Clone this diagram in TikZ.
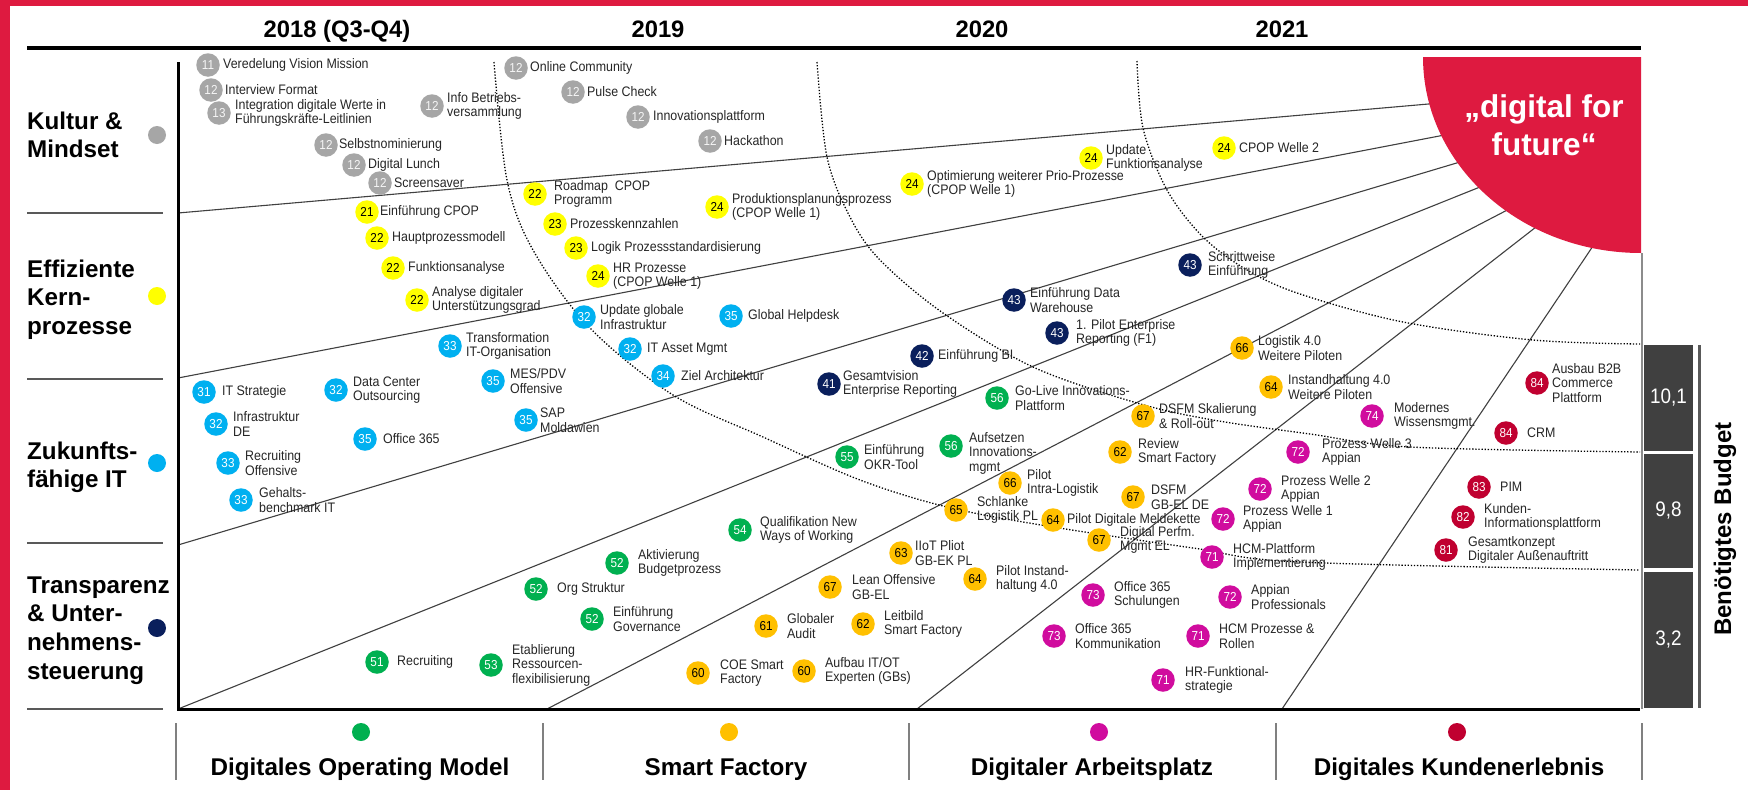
\documentclass[tikz,border=0pt]{standalone}
\usepackage{fontspec}
\setmainfont{Liberation Sans}
\newfontfamily\nf[FakeStretch=0.9]{Liberation Sans}
\definecolor{crd}{HTML}{DE1A40}
\definecolor{cgray}{HTML}{A6A6A6}
\definecolor{cyel}{HTML}{FFFF00}
\definecolor{ccyan}{HTML}{00B0F0}
\definecolor{cnavy}{HTML}{0A1F5C}
\definecolor{cgreen}{HTML}{00B050}
\definecolor{cgold}{HTML}{FFC000}
\definecolor{cmag}{HTML}{D00C9E}
\definecolor{cdred}{HTML}{C00030}
\definecolor{cbox}{HTML}{404040}
\newcommand\bub[7][0]{%
  \node[bub,#3] (#2) at (#4) {#5};
  \node[lbl,anchor=west] (#2t) at ([xshift=#6pt,yshift=#1pt]#2.center) {#7};}
\begin{document}
\begin{tikzpicture}[x=1pt,y=-1pt,
  bub/.style={circle,inner sep=0pt,minimum size=23.5pt,font=\nf\fontsize{13}{13}\selectfont},
  gr/.style={fill=cgray,text=white!92!gray},
  ye/.style={fill=cyel,text=black},
  cy/.style={fill=ccyan,text=white},
  nv/.style={fill=cnavy,text=white},
  gn/.style={fill=cgreen,text=white},
  go/.style={fill=cgold,text=black},
  mg/.style={fill=cmag,text=white},
  dr/.style={fill=cdred,text=white},
  lbl/.style={inner sep=0pt,align=left,font=\nf\fontsize{13.8}{14.5}\selectfont,text=black!85},
  hdr/.style={inner sep=0pt,anchor=base,font=\bfseries\fontsize{23.8}{28}\selectfont},
  cat/.style={inner sep=0pt,anchor=base,font=\bfseries\fontsize{24.2}{28}\selectfont},
  rowlbl/.style={inner sep=0pt,anchor=north west,align=left,font=\bfseries\fontsize{24.2}{28.7}\selectfont},
  dotc/.style={circle,inner sep=0pt,minimum size=18pt},
  ray/.style={draw=black!75,line width=1.1pt},
  arcd/.style={draw=black,line width=1.3pt,dash pattern=on 1.3pt off 1.8pt},
  sep/.style={draw=black!65,line width=1.3pt},
  budget/.style={fill=cbox},
  btxt/.style={text=white,font=\nf\fontsize{21}{21}\selectfont,inner sep=0pt}
]
\useasboundingbox (0,0) rectangle (1748,790);
\fill[white] (0,0) rectangle (1748,790);
% red frame
\fill[crd] (0,0) rectangle (1748,6);
\fill[crd] (0,0) rectangle (10,790);

% headers
\node[hdr] (h18) at (337,37.5) {2018 (Q3-Q4)};
\node[hdr] (h19) at (658,37.5) {2019};
\node[hdr] (h20) at (982,37.5) {2020};
\node[hdr] (h21) at (1282,37.5) {2021};
\draw[line width=4.5pt] (27,48) -- (1641,48);

% rays
\draw[ray] (178,213) -- (1440,103);
\draw[ray] (178,378) -- (1455,133);
\draw[ray] (178,545) -- (1470,159);
\draw[ray] (178,709) -- (1490,183);
\draw[ray] (547,709) -- (1515,206);
\draw[ray] (917,709) -- (1545,220);
\draw[ray] (1282,709) -- (1595,243);

% dotted arcs
\draw[arcd] plot[smooth,tension=0.55] coordinates {(494,62) (507,180) (533,250) (590,328) (673,395) (763,437) (860,480) (947,507) (1047,526) (1193,548) (1300,562) (1640,570)};
\draw[arcd] plot[smooth,tension=0.55] coordinates {(817,62) (827,157) (850,217) (880,260) (943,313) (1033,367) (1137,403) (1213,420) (1310,434) (1410,447) (1640,452)};
\draw[arcd] plot[smooth,tension=0.55] coordinates {(1137,61) (1143,128) (1167,190) (1203,237) (1247,270) (1300,294) (1403,322) (1533,340) (1640,344)};

% red quarter
\fill[crd] (1641,57) -- (1423,57) arc[start angle=180,end angle=270,x radius=218pt,y radius=196pt] -- cycle;
\node[text=white,align=center,inner sep=0pt,font=\bfseries\fontsize{31.5}{38}\selectfont] (dff) at (1544,125) {„digital for\\future“};

% axes
\draw[line width=3pt] (178,62) -- (178,709) -- (1640,709);
\draw[draw=black!45,line width=1.5pt] (1642,253) -- (1642,709);

% left row labels
\draw[sep] (27,213) -- (163,213);
\draw[sep] (27,379) -- (163,379);
\draw[sep] (27,543) -- (163,543);
\draw[sep] (27,709) -- (163,709);
\node[rowlbl] (rk) at (27,111.4) {Kultur \&\\Mindset};
\node[rowlbl] (re) at (27,259.4) {Effiziente\\Kern-\\prozesse};
\node[rowlbl] (rz) at (27,441.4) {Zukunfts-\\fähige IT};
\node[rowlbl] (rt) at (27,576.4) {Transparenz\\\& Unter-\\nehmens-\\steuerung};
\node[dotc,fill=cgray] (dk) at (157,135) {};
\node[dotc,fill=cyel] (de) at (157,296) {};
\node[dotc,fill=ccyan] (dz) at (157,463) {};
\node[dotc,fill=cnavy] (dt) at (157,628) {};

% bottom categories
\draw[draw=black!50,line width=2pt] (176,723) -- (176,780);
\draw[draw=black!50,line width=2pt] (543,723) -- (543,780);
\draw[draw=black!50,line width=2pt] (909,723) -- (909,780);
\draw[draw=black!50,line width=2pt] (1276,723) -- (1276,780);
\draw[draw=black!50,line width=2pt] (1642,723) -- (1642,780);
\node[dotc,fill=cgreen] (c1) at (361,732) {};
\node[dotc,fill=cgold] (c2) at (729,732) {};
\node[dotc,fill=cmag] (c3) at (1099,732) {};
\node[dotc,fill=cdred] (c4) at (1457,732) {};
\node[cat] (t1) at (360,775.5) {Digitales Operating Model};
\node[cat] (t2) at (726,775.5) {Smart Factory};
\node[cat] (t3) at (1092,775.5) {Digitaler Arbeitsplatz};
\node[cat] (t4) at (1459,775.5) {Digitales Kundenerlebnis};

% budget
\fill[budget] (1644,345) rectangle (1693,451);
\fill[budget] (1644,454) rectangle (1693,568);
\fill[budget] (1644,572) rectangle (1693,708);
\node[btxt] (b1) at (1668.5,398) {10,1};
\node[btxt] (b2) at (1668.5,511) {9,8};
\node[btxt] (b3) at (1668.5,640) {3,2};
\draw[draw=black!65,line width=3pt] (1699,345) -- (1699,708);
\node[rotate=90,inner sep=0pt,font=\bfseries\fontsize{24}{24}\selectfont] (bud) at (1725,529) {Benötigtes Budget};

% Kultur & Mindset
\bub{k1}{gr}{208,65}{11}{15}{Veredelung Vision Mission}
\bub{k2}{gr}{211,90}{12}{14}{Interview Format}
\bub{k3}{gr}{219,113}{13}{16}{Integration digitale Werte in\\Führungskräfte-Leitlinien}
\bub{k4}{gr}{432,106}{12}{15}{Info Betriebs-\\versammlung}
\bub{k5}{gr}{326,145}{12}{13}{Selbstnominierung}
\bub{k6}{gr}{354,165}{12}{14}{Digital Lunch}
\bub{k7}{gr}{380,183}{12}{14}{Screensaver}
\bub{k8}{gr}{516,68}{12}{14}{Online Community}
\bub{k9}{gr}{573,92}{12}{14}{Pulse Check}
\bub{k10}{gr}{638,117}{12}{15}{Innovationsplattform}
\bub{k11}{gr}{710,141}{12}{14}{Hackathon}

% Effiziente Kernprozesse
\bub{e1}{ye}{367,212}{21}{13}{Einführung CPOP}
\bub{e2}{ye}{377,238}{22}{15}{Hauptprozessmodell}
\bub{e3}{ye}{393,268}{22}{15}{Funktionsanalyse}
\bub{e4}{ye}{417,300}{22}{15}{Analyse digitaler\\Unterstützungsgrad}
\bub{e5}{ye}{535,194}{22}{19}{Roadmap~~CPOP\\Programm}
\bub{e6}{ye}{555,224}{23}{15}{Prozesskennzahlen}
\bub{e7}{ye}{576,248}{23}{15}{Logik Prozessstandardisierung}
\bub{e8}{ye}{598,276}{24}{15}{HR Prozesse\\(CPOP Welle 1)}
\bub{e9}{ye}{717,207}{24}{15}{Produktionsplanungsprozess\\(CPOP Welle 1)}
\bub{e10}{ye}{912,184}{24}{15}{Optimierung weiterer Prio-Prozesse\\(CPOP Welle 1)}
\bub{e11}{ye}{1091,158}{24}{15}{Update\\Funktionsanalyse}
\bub{e12}{ye}{1224,148}{24}{15}{CPOP Welle 2}

% Zukunftsfaehige IT
\bub{i1}{cy}{204,392}{31}{18}{IT Strategie}
\bub{i2}{cy}{216,424}{32}{17}{Infrastruktur\\DE}
\bub{i3}{cy}{228,463}{33}{17}{Recruiting\\Offensive}
\bub{i4}{cy}{241,500}{33}{18}{Gehalts-\\benchmark IT}
\bub{i5}{cy}{336,390}{32}{17}{Data Center\\Outsourcing}
\bub{i6}{cy}{365,439}{35}{18}{Office 365}
\bub{i7}{cy}{450,346}{33}{16}{Transformation\\IT-Organisation}
\bub{i8}{cy}{493,381}{35}{17}{MES/PDV\\Offensive}
\bub{i9}{cy}{526,420}{35}{14}{SAP\\Moldawien}
\bub{i10}{cy}{584,317}{32}{16}{Update globale\\Infrastruktur}
\bub{i11}{cy}{630,349}{32}{17}{IT Asset Mgmt}
\bub{i12}{cy}{663,376}{34}{18}{Ziel Architektur}
\bub{i13}{cy}{731,316}{35}{17}{Global Helpdesk}

% Transparenz
\bub{n1}{nv}{829,384}{41}{14}{Gesamtvision\\Enterprise Reporting}
\bub{n2}{nv}{922,356}{42}{16}{Einführung BI}
\bub{n3}{nv}{1014,300}{43}{16}{Einführung Data\\Warehouse}
\bub{n4}{nv}{1057,333}{43}{19}{1. Pilot Enterprise\\Reporting (F1)}
\bub{n5}{nv}{1190,265}{43}{18}{Schrittweise\\Einführung}

% Digitales Operating Model
\bub{g1}{gn}{377,662}{51}{20}{Recruiting}
\bub{g2}{gn}{536,589}{52}{21}{Org Struktur}
\bub{g3}{gn}{617,563}{52}{21}{Aktivierung\\Budgetprozess}
\bub{g4}{gn}{592,619}{52}{21}{Einführung\\Governance}
\bub{g5}{gn}{491,665}{53}{21}{Etablierung\\Ressourcen-\\flexibilisierung}
\bub{g6}{gn}{740,530}{54}{20}{Qualifikation New\\Ways of Working}
\bub{g7}{gn}{847,457}{55}{17}{Einführung\\OKR-Tool}
\bub[-7]{g8}{gn}{951,446}{56}{18}{Aufsetzen\\Innovations-\\mgmt}
\bub{g9}{gn}{997,398}{56}{18}{Go-Live Innovations-\\Plattform}

% Smart Factory
\bub{o1}{go}{698,673}{60}{22}{COE Smart\\Factory}
\bub{o2}{go}{804,671}{60}{21}{Aufbau IT/OT\\Experten (GBs)}
\bub{o3}{go}{766,626}{61}{21}{Globaler\\Audit}
\bub{o4}{go}{863,624}{62}{21}{Leitbild\\Smart Factory}
\bub{o5}{go}{830,587}{67}{22}{Lean Offensive\\GB-EL}
\bub{o6}{go}{901,553}{63}{14}{IIoT Pliot\\GB-EK PL}
\bub{o7}{go}{975,579}{64}{21}{Pilot Instand-\\haltung 4.0}
\bub{o8}{go}{956,510}{65}{21}{Schlanke\\Logistik PL}
\bub{o9}{go}{1010,483}{66}{17}{Pilot\\Intra-Logistik}
\bub{o10}{go}{1053,520}{64}{14}{Pilot Digitale Meldekette}
\bub{o11}{go}{1099,540}{67}{21}{Digital Perfm.\\Mgmt EL}
\bub{o12}{go}{1133,497}{67}{18}{DSFM\\GB-EL DE}
\bub{o13}{go}{1120,452}{62}{18}{Review\\Smart Factory}
\bub{o14}{go}{1143,416}{67}{16}{DSFM Skalierung\\\& Roll-out}
\bub{o15}{go}{1242,348}{66}{16}{Logistik 4.0\\Weitere Piloten}
\bub{o16}{go}{1271,387}{64}{17}{Instandhaltung 4.0\\Weitere Piloten}

% Digitaler Arbeitsplatz
\bub{m1}{mg}{1163,680}{71}{22}{HR-Funktional-\\strategie}
\bub{m2}{mg}{1198,636}{71}{21}{HCM Prozesse \&\\Rollen}
\bub{m3}{mg}{1212,557}{71}{21}{HCM-Plattform\\Implementierung}
\bub{m4}{mg}{1054,636}{73}{21}{Office 365\\Kommunikation}
\bub{m5}{mg}{1093,595}{73}{21}{Office 365\\Schulungen}
\bub{m6}{mg}{1230,597}{72}{21}{Appian\\Professionals}
\bub{m7}{mg}{1223,519}{72}{20}{Prozess Welle 1\\Appian}
\bub{m8}{mg}{1260,489}{72}{21}{Prozess Welle 2\\Appian}
\bub{m9}{mg}{1298,452}{72}{24}{Prozess Welle 3\\Appian}
\bub{m10}{mg}{1372,416}{74}{22}{Modernes\\Wissensmgmt.}

% Digitales Kundenerlebnis
\bub{r1}{dr}{1446,550}{81}{22}{Gesamtkonzept\\Digitaler Außenauftritt}
\bub{r2}{dr}{1463,517}{82}{21}{Kunden-\\Informationsplattform}
\bub{r3}{dr}{1479,487}{83}{21}{PIM}
\bub{r4}{dr}{1506,433}{84}{21}{CRM}
\bub{r5}{dr}{1537,383}{84}{15}{Ausbau B2B\\Commerce\\Plattform}
\end{tikzpicture}
\end{document}
